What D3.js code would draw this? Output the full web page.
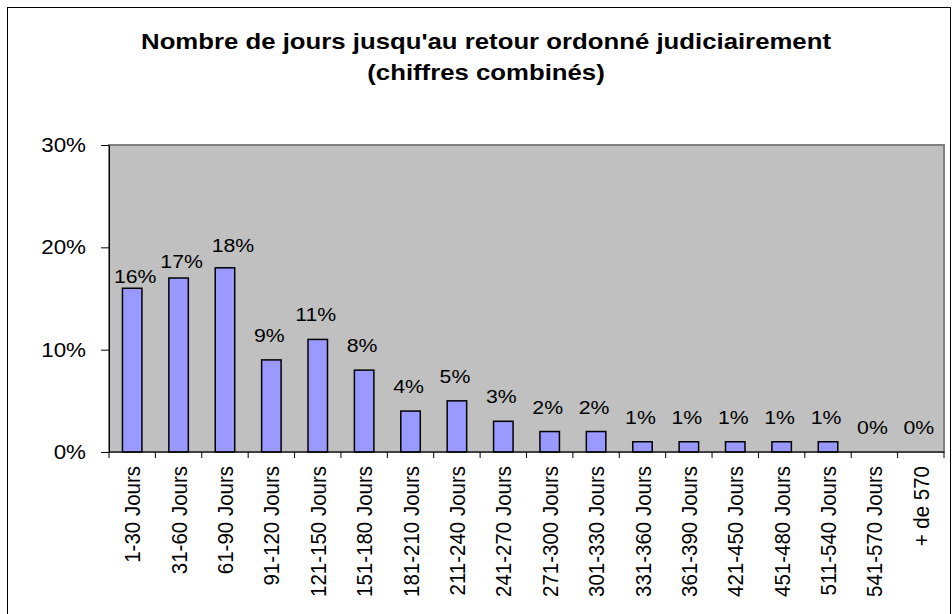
<!DOCTYPE html>
<html>
<head>
<meta charset="utf-8">
<script src="https://cdn.jsdelivr.net/npm/d3@7/dist/d3.min.js"></script>
<style>
  body { margin: 0; background: #fff; }
  svg { display: block; font-family: Arial, "Liberation Sans", sans-serif; }
</style>
</head>
<body>
<svg id="chart" width="952" height="614"></svg>
<script>
// data
var categories = ["1-30 Jours", "31-60 Jours", "61-90 Jours", "91-120 Jours", "121-150 Jours",
  "151-180 Jours", "181-210 Jours", "211-240 Jours", "241-270 Jours", "271-300 Jours",
  "301-330 Jours", "331-360 Jours", "361-390 Jours", "421-450 Jours", "451-480 Jours",
  "511-540 Jours", "541-570 Jours", "+ de 570"];
var values = [16, 17, 18, 9, 11, 8, 4, 5, 3, 2, 2, 1, 1, 1, 1, 1, 0, 0];
var yTicks = [0, 10, 20, 30];
var titleLines = ["Nombre de jours jusqu'au retour ordonné judiciairement", "(chiffres combinés)"];

var svg = d3.select("#chart"),
    width = +svg.attr("width"),
    height = +svg.attr("height");

// the old picture is a bit stretched sideways, so text gets a small x-scale
var k = 1.12;
var pLeft = 109, pRight = 944, pTop = 145, pBottom = 452;

var x = d3.scaleBand().domain(categories).range([pLeft, pRight]);
var y = d3.scaleLinear().domain([0, 30]).range([pBottom, pTop]);

svg.append("rect").attr("width", width).attr("height", height).attr("fill", "#fff");

// outer chart frame
svg.append("rect")
    .attr("x", 7.5).attr("y", 7.5)
    .attr("width", 943).attr("height", 640)
    .attr("fill", "none").attr("stroke", "#000").attr("stroke-width", 1);

// title
svg.selectAll("text.title").data(titleLines).enter().append("text")
    .attr("class", "title")
    .attr("transform", function(d, i) { return "translate(486," + (49 + i * 31) + ") scale(" + k + ",1)"; })
    .attr("text-anchor", "middle")
    .attr("font-size", "23px")
    .attr("font-weight", "bold")
    .text(function(d) { return d; });

// plot area
svg.append("rect")
    .attr("x", pLeft).attr("y", pTop)
    .attr("width", pRight - pLeft).attr("height", pBottom - pTop)
    .attr("fill", "#C0C0C0").attr("stroke", "#808080").attr("stroke-width", 2);

// y axis
var yAxis = svg.append("g")
    .attr("transform", "translate(" + pLeft + ",0)")
    .call(d3.axisLeft(y).tickValues(yTicks).tickSize(8).tickSizeOuter(0)
      .tickFormat(function(d) { return d + "%"; }));
yAxis.select(".domain").attr("stroke", "#000");
yAxis.selectAll(".tick line").attr("stroke", "#000");
yAxis.selectAll(".tick text")
    .attr("x", -23 / k)
    .attr("transform", "scale(" + k + ",1)")
    .attr("font-size", "20px")
    .attr("font-family", "Arial, 'Liberation Sans', sans-serif")
    .attr("fill", "#000");

// bars
var barW = x.bandwidth() * 0.42;
svg.append("g").selectAll("rect").data(values).enter().append("rect")
    .attr("x", function(d, i) { return x(categories[i]) + x.bandwidth() / 2 - barW / 2; })
    .attr("y", function(d) { return y(d); })
    .attr("width", barW)
    .attr("height", function(d) { return pBottom - y(d); })
    .attr("fill", "#9999FF")
    .attr("stroke", "#000")
    .attr("stroke-width", 1.5);

// bottom axis: line and ticks between categories
svg.append("line")
    .attr("x1", pLeft).attr("x2", pRight)
    .attr("y1", pBottom).attr("y2", pBottom)
    .attr("stroke", "#000");
var edges = categories.map(function(c) { return x(c); }).concat([pRight]);
svg.append("g").selectAll("line").data(edges).enter().append("line")
    .attr("x1", function(d) { return d; }).attr("x2", function(d) { return d; })
    .attr("y1", pBottom).attr("y2", pBottom + 6)
    .attr("stroke", "#000");

// category labels, turned upright
svg.append("g").selectAll("text").data(categories).enter().append("text")
    .attr("transform", function(d) {
      return "translate(" + (x(d) + x.bandwidth() / 2) + "," + 466 + ") scale(" + k + ",1) rotate(-90)";
    })
    .attr("text-anchor", "end")
    .attr("dy", "0.35em")
    .attr("font-size", "20.5px")
    .text(function(d) { return d; });

// value labels; the first three were nudged by hand in the original
var nudge = { 0: [3, 13], 1: [3, 8], 2: [8, 2] };
svg.append("g").selectAll("text").data(values).enter().append("text")
    .attr("transform", function(d, i) {
      var n = nudge[i] || [-2, 0];
      var cx = x(categories[i]) + x.bandwidth() / 2 + n[0];
      return "translate(" + cx + "," + (y(d) - 18 + n[1]) + ") scale(" + k + ",1)";
    })
    .attr("text-anchor", "middle")
    .attr("font-size", "19px")
    .text(function(d) { return d + "%"; });
</script>
</body>
</html>
